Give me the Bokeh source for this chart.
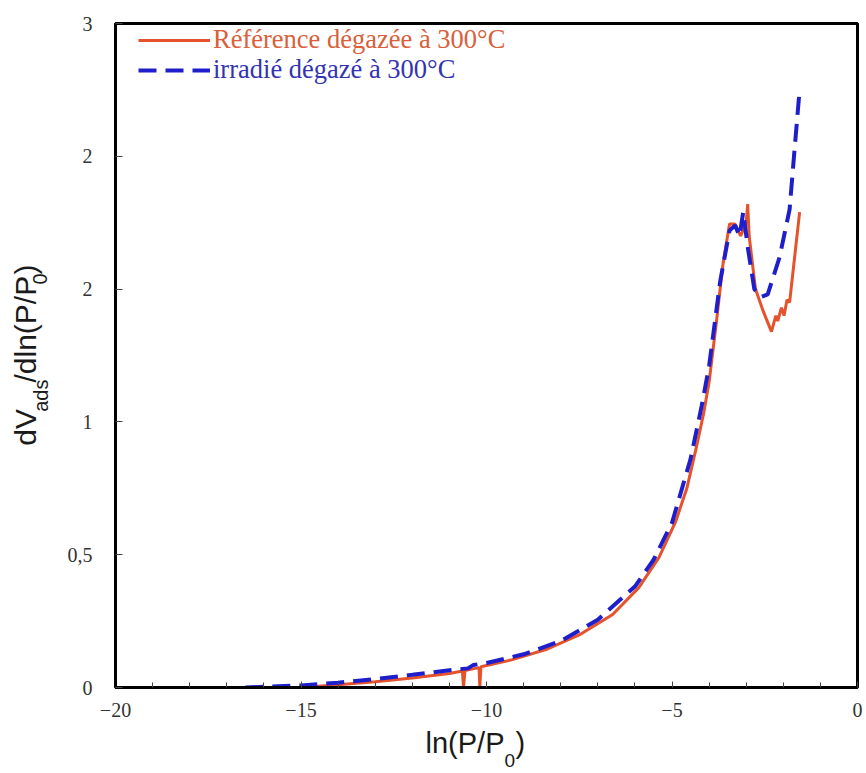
import math
from bokeh.plotting import figure
from bokeh.layouts import row, column
from bokeh.models import (Range1d, SingleIntervalTicker, FixedTicker, Legend, LegendItem, Label)
from bokeh.embed import file_html
from bokeh.resources import INLINE

# ---- data ----
ref_x = [-15.0, -14.0, -13.0, -12.0, -11.0, -10.65, -10.62, -10.58, -10.3, -10.2, -10.18, -10.15,
         -9.3, -8.4, -7.5, -6.6, -5.9, -5.35, -4.9, -4.6, -4.35, -4.15, -4.0, -3.8, -3.63,
         -3.45, -3.3, -3.15, -3.0, -2.96, -2.92, -2.75, -2.55, -2.32, -2.2, -2.15, -2.05,
         -1.98, -1.9, -1.83, -1.56]
ref_y = [0.0, 0.01, 0.022, 0.036, 0.053, 0.062, 0.0, 0.064, 0.072, 0.074, 0.0, 0.078,
         0.105, 0.143, 0.198, 0.275, 0.375, 0.49, 0.625, 0.75, 0.9, 1.03, 1.15, 1.38, 1.59,
         1.745, 1.745, 1.70, 1.75, 1.82, 1.70, 1.50, 1.42, 1.34, 1.40, 1.38, 1.43,
         1.40, 1.46, 1.45, 1.79]

irr_x = [-16.5, -15.0, -14.0, -13.0, -12.0, -11.0, -10.5, -10.35, -10.0, -9.0, -8.0, -7.0,
         -6.0, -5.5, -5.0, -4.5, -4.2, -4.0, -3.7, -3.45, -3.3, -3.18, -3.08, -2.95, -2.78,
         -2.6, -2.42, -2.1, -1.83, -1.7, -1.56]
irr_y = [0.0, 0.008, 0.018, 0.032, 0.048, 0.065, 0.072, 0.085, 0.092, 0.125, 0.175, 0.255,
         0.38, 0.48, 0.62, 0.86, 1.06, 1.21, 1.53, 1.72, 1.74, 1.70, 1.79, 1.65, 1.50,
         1.47, 1.48, 1.62, 1.80, 2.02, 2.25]

series_names = ["Référence dégazée à 300°C", "irradié dégazé à 300°C"]
y_tick_values = [0, 0.5, 1.0, 1.5, 2.0, 2.5]
y_tick_labels = ["0", "0,5", "1", "2", "2", "3"]

RED = "#E5522B"
BLUE = "#1E1ECC"

YW = 60      # width of the strip holding the y title
MAIN_W = 804
MAIN_H = 725
XH = 48      # height of the strip holding the x title

p = figure(width=MAIN_W, height=MAIN_H, output_backend="svg", toolbar_location=None,
           x_range=Range1d(-20, 0), y_range=Range1d(0, 2.5),
           min_border_left=115 - YW, min_border_right=7, min_border_top=23, min_border_bottom=38)
p.background_fill_color = "white"
p.border_fill_color = "white"
p.outline_line_color = "black"
p.outline_line_width = 3
p.xgrid.visible = False
p.ygrid.visible = False

for ax in (p.xaxis[0], p.yaxis[0]):
    ax.axis_line_color = "black"
    ax.axis_line_width = 3
    ax.major_tick_in = 6
    ax.major_tick_out = 0
    ax.minor_tick_in = 5
    ax.minor_tick_out = 0
    ax.major_tick_line_color = "#444444"
    ax.minor_tick_line_color = "#444444"
    ax.major_label_text_font = "Liberation Serif"
    ax.major_label_text_font_size = "20px"
    ax.major_label_text_color = "#333333"
    ax.axis_label = None

p.xaxis.ticker = SingleIntervalTicker(interval=5, num_minor_ticks=5)
p.xaxis.major_label_standoff = 15
p.yaxis.ticker = FixedTicker(ticks=y_tick_values)
p.yaxis.major_label_overrides = {v: t for v, t in zip(y_tick_values, y_tick_labels)}
p.yaxis.minor_tick_line_color = None
p.yaxis.major_tick_in = 7
p.yaxis.major_label_standoff = 23

r1 = p.line(ref_x, ref_y, line_color=RED, line_width=3)
r2 = p.line(irr_x, irr_y, line_color=BLUE, line_width=4, line_dash="18 9")

common = dict(border_line_color=None, background_fill_alpha=0, padding=0, margin=0, spacing=0,
              glyph_width=72, glyph_height=30, label_height=30, label_standoff=3,
              label_text_font="Liberation Serif", label_text_font_size="26.5px")
leg1 = Legend(items=[LegendItem(label=series_names[0], renderers=[r1])],
              location=(23, 632), label_text_color="#D9603A", **common)
leg2 = Legend(items=[LegendItem(label=series_names[1], renderers=[r2])],
              location=(23, 602), label_text_color="#3434B0", **common)
p.add_layout(leg1)
p.add_layout(leg2)


def strip(w, h):
    f = figure(width=w, height=h, output_backend="svg", toolbar_location=None,
               x_range=Range1d(0, w), y_range=Range1d(0, h),
               x_axis_location=None, y_axis_location=None,
               min_border=0, min_border_left=0, min_border_right=0,
               min_border_top=0, min_border_bottom=0)
    f.outline_line_color = None
    f.xgrid.visible = False
    f.ygrid.visible = False
    f.background_fill_color = "white"
    f.border_fill_color = "white"
    return f


lab = dict(text_font="Liberation Sans", text_color="#1a1a1a", text_baseline="middle", text_align="left")

# y title strip: dV_ads/dln(P/P_0)
yf = strip(YW, MAIN_H)
a = math.pi / 2
yf.add_layout(Label(x=25, y=MAIN_H - 461, angle=a, text="dV", text_font_size="30px", **lab))
yf.add_layout(Label(x=40, y=MAIN_H - 424, angle=a, text="ads", text_font_size="20px", **lab))
yf.add_layout(Label(x=25, y=MAIN_H - 392, angle=a, text="/dln(P/P", text_font_size="30px", **lab))
yf.add_layout(Label(x=39, y=MAIN_H - 285, angle=a, text="0", text_font_size="20px", **lab))
yf.add_layout(Label(x=25, y=MAIN_H - 274, angle=a, text=")", text_font_size="30px", **lab))

# x title strip: ln(P/P_0)
TOT_H = MAIN_H + XH
xf = strip(YW + MAIN_W, XH)
xf.add_layout(Label(x=425, y=TOT_H - 742, text="ln(P/P", text_font_size="29px", **lab))
xf.add_layout(Label(x=504, y=TOT_H - 760, text="0", text_font_size="19px", **lab))
xf.add_layout(Label(x=515, y=TOT_H - 742, text=")", text_font_size="29px", **lab))

layout = column(row(yf, p, spacing=0), xf, spacing=0)
open("out.html", "w").write(file_html(layout, INLINE))
